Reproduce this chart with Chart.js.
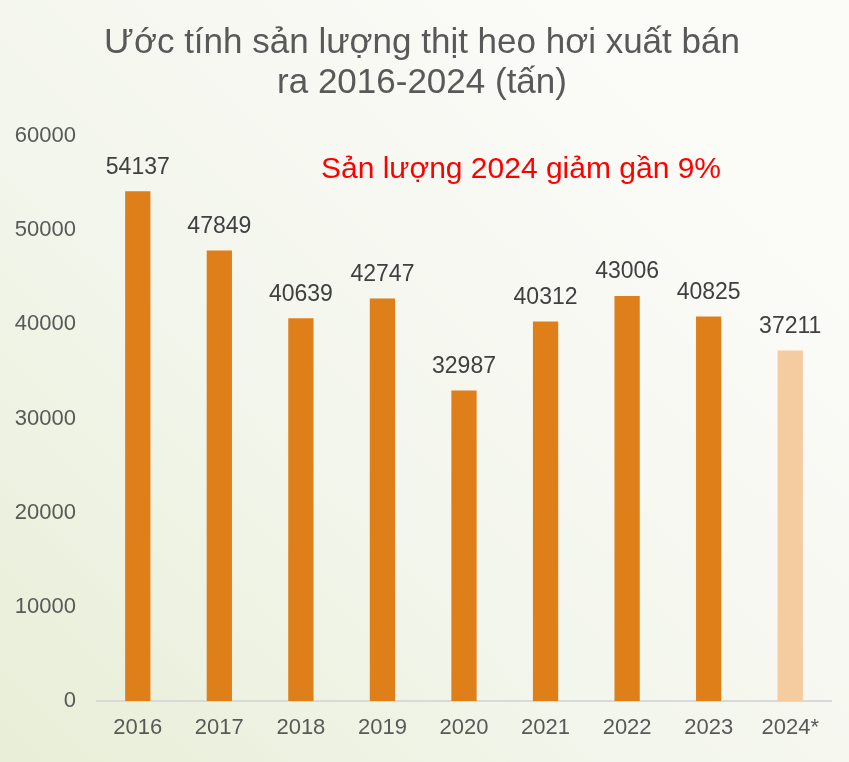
<!DOCTYPE html>
<html>

<head>
  <title>Sản lượng thịt heo hơi</title>
  <script src="https://cdn.jsdelivr.net/npm/chart.js@4.4.1/dist/chart.umd.min.js"></script>
  <style>
    html, body {
      margin: 0;
      padding: 0;
    }
    body {
      width: 849px;
      height: 762px;
      overflow: hidden;
      background: linear-gradient(45deg, #e8eed7 0%, #f3f6ec 40%, #fafaf6 75%, #fbfbf8 100%);
    }
    #wrap {
      position: relative;
      width: 849px;
      height: 762px;
    }
  </style>
</head>

<body>
  <div id="wrap">
    <canvas id="porkChart" width="849" height="762"></canvas>
  </div>

  <script>
    const years = ['2016', '2017', '2018', '2019', '2020', '2021', '2022', '2023', '2024*'];
    const tons = [54137, 47849, 40639, 42747, 32987, 40312, 43006, 40825, 37211];
    const barColors = ['#df7f1a', '#df7f1a', '#df7f1a', '#df7f1a', '#df7f1a', '#df7f1a', '#df7f1a', '#df7f1a', '#f5cba0'];
    const titleLines = ['Ước tính sản lượng thịt heo hơi xuất bán', 'ra 2016-2024 (tấn)'];
    const note = 'Sản lượng 2024 giảm gần 9%';

    const FONT = "'Liberation Sans', Arial, sans-serif";

    // value labels above each bar + red note
    const labelPlugin = {
      id: 'barLabels',
      afterDatasetsDraw(chart) {
        const ctx = chart.ctx;
        const meta = chart.getDatasetMeta(0);
        ctx.save();
        ctx.font = '23px ' + FONT;
        ctx.fillStyle = '#404040';
        ctx.textAlign = 'center';
        ctx.textBaseline = 'middle';
        meta.data.forEach((bar, i) => {
          ctx.fillText(String(tons[i]), bar.x, bar.y - 24);
        });

        ctx.font = '30px ' + FONT;
        ctx.fillStyle = '#ff0000';
        ctx.fillText(note, 521, 170);
        ctx.restore();
      }
    };

    const ctx = document.getElementById('porkChart').getContext('2d');
    const porkChart = new Chart(ctx, {
      type: 'bar',
      data: {
        labels: years,
        datasets: [{
          data: tons,
          backgroundColor: barColors,
          barPercentage: 0.31,
          categoryPercentage: 1,
        }],
      },
      options: {
        responsive: false,
        animation: false,
        layout: {
          padding: { left: 13, right: 18, top: 0, bottom: 0 },
        },
        plugins: {
          legend: { display: false },
          tooltip: { enabled: false },
          title: {
            display: true,
            text: titleLines,
            color: '#595959',
            font: { family: FONT, size: 35, weight: 'normal', lineHeight: 1.143 },
            padding: { top: 23, bottom: 33 },
          },
        },
        scales: {
          x: {
            grid: { display: false, drawTicks: false },
            border: { display: true, color: '#d9d9d9', width: 2 },
            ticks: {
              color: '#595959',
              font: { family: FONT, size: 22 },
              padding: 14,
            },
            afterFit: (s) => { s.height = 61; },
          },
          y: {
            min: 0,
            max: 60000,
            grid: { display: false, drawTicks: false },
            border: { display: false },
            ticks: {
              stepSize: 10000,
              color: '#595959',
              font: { family: FONT, size: 22 },
              padding: 21,
              callback: (v) => String(v),
            },
            afterFit: (s) => { s.width = 84; },
          },
        },
      },
      plugins: [labelPlugin],
    });
  </script>
</body>

</html>
